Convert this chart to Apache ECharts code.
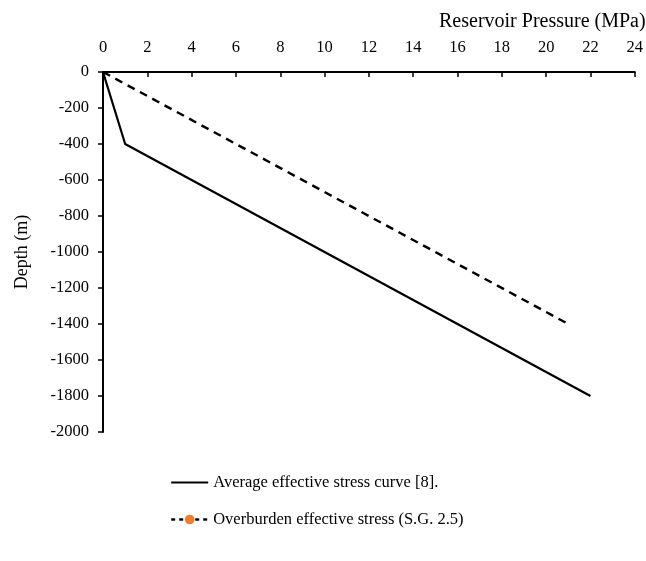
<!DOCTYPE html>
<html>
<head>
<meta charset="utf-8">
<script src="https://cdn.jsdelivr.net/npm/echarts@6/dist/echarts.min.js"></script>
<style>html,body{margin:0;padding:0;background:#fff}#c{width:646px;height:561px}</style>
</head>
<body>
<div id="c"></div>
<script>
const seriesNames = ['Average effective stress curve [8].', 'Overburden effective stress (S.G. 2.5)'];
const avgPressure = [0, 1, 22];
const avgDepth = [0, -400, -1800];
const overPressure = [0, 21];
const overDepth = [0, -1400];
const xTicks = [0, 24, 2];
const yTicks = [-2000, 0, 200];

const font = '"Liberation Serif", "Times New Roman", serif';
const chart = echarts.init(document.getElementById('c'));
chart.setOption({
  animation: false,
  backgroundColor: '#fff',
  textStyle: { fontFamily: font, color: '#000' },
  grid: { left: 103, right: 9, top: 72, height: 360 },
  graphic: [{
    type: 'text', left: 439, top: 12,
    style: { text: 'Reservoir Pressure (MPa)', font: '20px ' + font, fill: '#000' }
  }],
  xAxis: {
    type: 'value', position: 'top', min: xTicks[0], max: xTicks[1], interval: xTicks[2],
    axisLine: { lineStyle: { color: '#000', width: 2 } },
    axisTick: { inside: true, length: 5, lineStyle: { color: '#000', width: 1.5 } },
    axisLabel: { color: '#000', fontSize: 16.5, fontFamily: font, margin: 16 },
    splitLine: { show: false }
  },
  yAxis: {
    type: 'value', min: yTicks[0], max: yTicks[1], interval: yTicks[2],
    name: 'Depth (m)', nameLocation: 'middle', nameGap: 72,
    nameTextStyle: { color: '#000', fontSize: 18, fontFamily: font },
    axisLine: { lineStyle: { color: '#000', width: 2 } },
    axisTick: { length: 5, lineStyle: { color: '#000', width: 1.5 } },
    axisLabel: { color: '#000', fontSize: 16.5, fontFamily: font, margin: 14, formatter: v => String(v) },
    splitLine: { show: false }
  },
  legend: {
    orient: 'vertical', left: 165, top: 469, itemGap: 20, itemWidth: 37, itemHeight: 12,
    textStyle: { color: '#000', fontSize: 16.5, fontFamily: font },
    data: [
      { name: seriesNames[0], itemStyle: { opacity: 0 } },
      { name: seriesNames[1], lineStyle: { type: [4, 4], width: 2.4 } }
    ]
  },
  series: [
    {
      name: seriesNames[0], type: 'line', symbol: 'none',
      lineStyle: { color: '#000', width: 2.2 }, itemStyle: { color: '#000' },
      data: avgPressure.map((p, i) => [p, avgDepth[i]])
    },
    {
      name: seriesNames[1], type: 'line', symbol: 'circle', symbolSize: 10, showSymbol: false,
      lineStyle: { color: '#000', width: 2.4, type: [8, 6] }, itemStyle: { color: '#ED7D31' },
      data: overPressure.map((p, i) => [p, overDepth[i]])
    }
  ]
});
</script>
</body>
</html>
